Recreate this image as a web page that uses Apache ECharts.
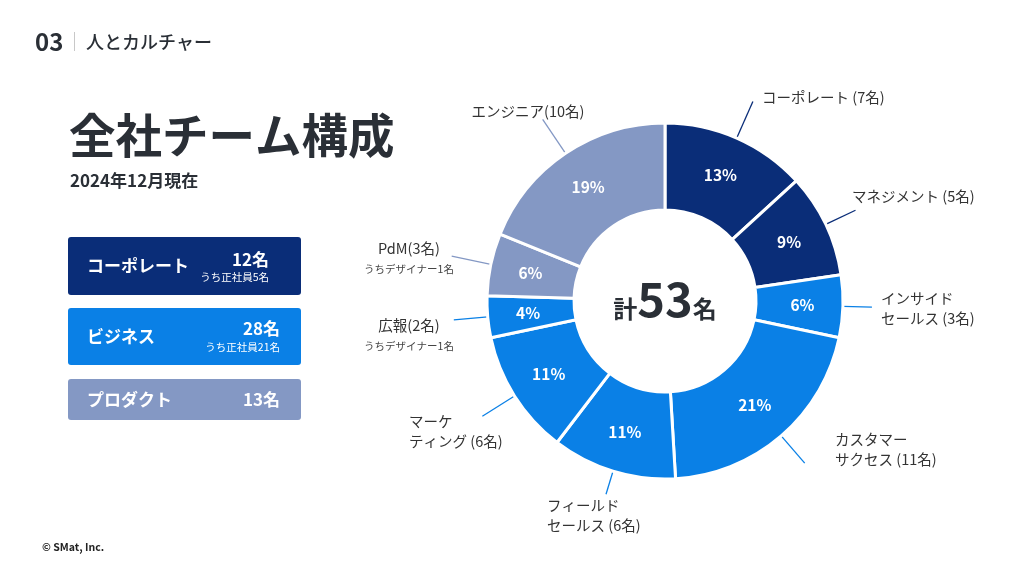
<!DOCTYPE html>
<html>
<head>
<meta charset="utf-8">
<script src="https://cdn.jsdelivr.net/npm/echarts@6/dist/echarts.min.js"></script>
<style>
html,body{margin:0;padding:0;background:#fff;}
#c{width:1024px;height:576px;}
</style>
</head>
<body>
<div id="c"></div>
<script>
// ---- data ----
const names = ['コーポレート','マネジメント','インサイドセールス','カスタマーサクセス','フィールドセールス','マーケティング','広報','PdM','エンジニア'];
const counts = [7,5,3,11,6,6,2,3,10];
const labelNames = ['コーポレート','マネジメント','インサイド\nセールス','カスタマー\nサクセス','フィールド\nセールス','マーケ\nティング','広報','PdM','エンジニア'];
const labelSpaced = [true,true,true,true,true,true,false,false,false];
const labelNotes = ['','','','','','','うちデザイナー1名','うちデザイナー1名',''];
const sliceGroup = [0,0,1,1,1,1,1,2,2];
const groupNames = ['コーポレート','ビジネス','プロダクト'];
const groupTotals = [12,28,13];
const groupNotes = ['うち正社員5名','うち正社員21名',''];
const headerNumber = '03';
const headerText = '人とカルチャー';
const titleText = '全社チーム構成';
const subtitleText = '2024年12月現在';
const footerText = '© SMat, Inc.';

// ---- style / layout ----
const groupColors = ['#0a2d78','#0a80e6','#8498c4'];
const FONT = '"Noto Sans CJK JP","Noto Sans",sans-serif';
const TEXT = '#2a2f36';
const labelAnchors = [
  {x:762, y:97,  align:'left',   len:40},
  {x:852, y:196, align:'left',   len:33},
  {x:881, y:308, align:'left',   len:29},
  {x:835, y:449, align:'left',   len:36},
  {x:547, y:515, align:'left',   len:24},
  {x:409, y:431, align:'left',   len:38},
  {x:409, y:336, align:'center', len:34},
  {x:409, y:259, align:'center', len:40},
  {x:528, y:111, align:'center', len:41}
];
const boxes = [
  {y:237, h:58, ty:266, ny:260, sy:277, rx:269},
  {y:308, h:57, ty:337, ny:329, sy:347, rx:280},
  {y:379, h:41, ty:400, ny:400, sy:0,   rx:280}
];

const total = counts.reduce((a,b)=>a+b,0);
const chart = echarts.init(document.getElementById('c'), null, {renderer:'canvas'});

const graphic = [];
function txt(x,y,text,font,fill,align,valign,extra){
  graphic.push(Object.assign({type:'text', x:x, y:y, silent:true,
    style:{text:text, font:font, fill:fill, align:align||'left', verticalAlign:valign||'middle',
           textAlign:align||'left', textVerticalAlign:valign||'middle'}}, extra||{}));
}
// header
txt(35, 42, headerNumber, 'bold 24px ' + FONT, TEXT);
graphic.push({type:'line', silent:true, shape:{x1:74.5,y1:32,x2:74.5,y2:51}, style:{stroke:'#c8c8c8', lineWidth:1}});
txt(86, 42, headerText, '500 18px ' + FONT, TEXT);
// title
txt(69, 135, titleText, 'bold 46.5px ' + FONT, TEXT);
txt(70, 181, subtitleText, 'bold 17px ' + FONT, TEXT);
// group boxes
groupNames.forEach((g,i)=>{
  const b = boxes[i];
  graphic.push({type:'rect', silent:true, shape:{x:68,y:b.y,width:233,height:b.h,r:3}, style:{fill:groupColors[i]}});
  txt(87, b.ty, g, 'bold 17px ' + FONT, '#fff');
  txt(b.rx, b.ny, groupTotals[i] + '名', 'bold 17px ' + FONT, '#fff', 'right');
  if (groupNotes[i]) txt(b.rx, b.sy, groupNotes[i], '10.5px ' + FONT, '#fff', 'right');
});
// footer
txt(42, 547, footerText, 'bold 10.5px ' + FONT, '#222');
// center total
graphic.push({type:'text', x:665, y:299, silent:true, z:100,
  style:{text:'{a|計}{b|' + total + '}{a|名}', align:'center', verticalAlign:'middle',
    textAlign:'center', textVerticalAlign:'middle',
    rich:{
      a:{fontSize:24, fontWeight:'bold', fontFamily:FONT, fill:TEXT, color:TEXT, verticalAlign:'bottom', padding:[0,0,2,0]},
      b:{fontSize:47, fontWeight:'bold', fontFamily:FONT, fill:TEXT, color:TEXT, verticalAlign:'bottom'}
    }}});

const pieData = names.map((n,i)=>({
  name:n, value:counts[i],
  itemStyle:{color:groupColors[sliceGroup[i]]},
  labelLine:{length:labelAnchors[i].len}
}));

chart.setOption({
  backgroundColor:'#ffffff',
  animation:false,
  graphic: graphic,
  series:[
    {
      type:'pie', center:[665,301], radius:[91,178], startAngle:90, clockwise:true,
      avoidLabelOverlap:false, emphasis:{disabled:true},
      itemStyle:{borderColor:'#ffffff', borderWidth:3},
      label:{
        show:true, position:'outside', color:'#333', fontSize:14.5, fontFamily:FONT, lineHeight:20,
        formatter:(p)=>{
          const i = p.dataIndex;
          let s = labelNames[i] + (labelSpaced[i] ? ' ' : '') + '(' + p.value + '名)';
          if (labelNotes[i]) s += '\n{s|' + labelNotes[i] + '}';
          return s;
        },
        rich:{ s:{fontSize:10.5, color:'#444', lineHeight:22, fontFamily:FONT} }
      },
      labelLine:{show:true, length:34, length2:0, smooth:false, lineStyle:{width:1.3}},
      labelLayout:(p)=>{
        const a = labelAnchors[p.dataIndex];
        return {x:a.x, y:a.y, align:a.align, verticalAlign:'middle', labelLinePoints:p.labelLinePoints};
      },
      data: pieData
    },
    {
      type:'pie', center:[665,301], radius:[91,178], startAngle:90, clockwise:true,
      silent:true, z:3, avoidLabelOverlap:false,
      itemStyle:{color:'rgba(0,0,0,0)', borderWidth:0},
      label:{show:true, position:'inside', color:'#ffffff', fontSize:15.5, fontWeight:'bold', fontFamily:FONT,
        formatter:(p)=>Math.round(p.percent) + '%'},
      labelLine:{show:false},
      data: names.map((n,i)=>({name:n, value:counts[i]}))
    }
  ]
});
</script>
</body>
</html>
